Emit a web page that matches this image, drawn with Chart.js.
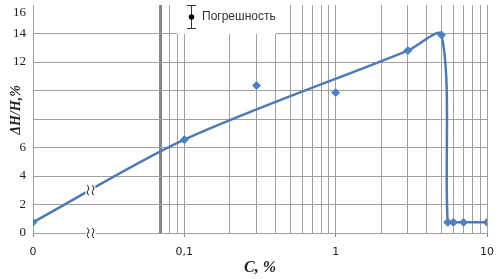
<!DOCTYPE html>
<html><head><meta charset="utf-8">
<script src="https://cdn.jsdelivr.net/npm/chart.js@4.4.0/dist/chart.umd.min.js"></script>
<style>html,body{margin:0;padding:0;background:#fff}canvas{display:block}</style>
</head><body>
<canvas id="c" width="498" height="279"></canvas>
<script>
// Measured points (C in %, ΔH/H in %)
const C_MEASURED  = [0, 0.1, 0.3, 1, 3, 5, 5.5, 6, 7, 10];
const DH_MEASURED = [0.75, 6.55, 10.35, 9.85, 12.8, 13.9, 0.75, 0.75, 0.75, 0.75];
// Smoothed trend curve
const C_CURVE  = [0, 0.1, 3, 5, 5.5, 6, 7, 10];
const DH_CURVE = [0.75, 6.55, 12.8, 13.9, 0.75, 0.75, 0.75, 0.75];
// Axis ticks
const ZERO_AT = 0.01;           // where C = 0 sits on the broken log axis
const BREAK_AT = 0.07;          // axis break line
const X_MINOR = [0.08, 0.09, 0.2, 0.3, 0.4, 0.5, 0.6, 0.7, 0.8, 0.9, 2, 3, 4, 5, 6, 7, 8, 9];
const X_LABEL_VALUES = [0.01, 0.1, 1, 10];
const X_LABEL_TEXT   = ['0', '0,1', '1', '10'];
const Y_TICKS = [0, 2, 4, 6, 8, 10, 12, 14, 16];
const Y_HIDDEN_LABELS = [8, 10];
const BREAK_MARK_C = 0.024;
const BREAK_MARK_Y = [3, 0];
const LEGEND_TEXT = 'Погрешность';
const X_TITLE = 'C, %';
const Y_TITLE = 'ΔH/H,%';

const LINE = '#4d7ab5';
const MARK = '#4f81bd';
const GRID = '#a0a0a0';

const toX = c => c === 0 ? ZERO_AT : c;
const X_GRID = [ZERO_AT, BREAK_AT, ...X_MINOR, 0.1, 1, 10].sort((a, b) => a - b);
const labelIdx = v => X_LABEL_VALUES.indexOf(v);

const overlay = {
  id: 'overlay',
  afterDraw(chart) {
    const ctx = chart.ctx;
    const xs = chart.scales.x, ys = chart.scales.y;
    // break marks
    BREAK_MARK_Y.forEach(yv => {
      const x = xs.getPixelForValue(BREAK_MARK_C), y = ys.getPixelForValue(yv);
      ctx.save();
      ctx.fillStyle = '#fff';
      ctx.fillRect(x - 5, y - 4, 10, 8);
      ctx.strokeStyle = '#111';
      ctx.lineWidth = 1;
      [-2.5, 2.5].forEach(dx => {
        const x0 = x + dx;
        ctx.beginPath();
        ctx.moveTo(x0 - 1, y - 5);
        ctx.bezierCurveTo(x0 + 4, y - 2, x0 - 4, y + 2, x0 + 1, y + 5);
        ctx.stroke();
      });
      ctx.restore();
    });
    // legend
    ctx.save();
    ctx.fillStyle = '#fff';
    ctx.fillRect(177, 0, 99, 34);
    ctx.strokeStyle = '#333';
    ctx.lineWidth = 1;
    ctx.beginPath();
    ctx.moveTo(191.5, 5); ctx.lineTo(191.5, 29);
    ctx.moveTo(187, 5.5); ctx.lineTo(196, 5.5);
    ctx.moveTo(187, 28.5); ctx.lineTo(196, 28.5);
    ctx.stroke();
    ctx.fillStyle = '#000';
    ctx.beginPath(); ctx.arc(191.5, 17, 2.7, 0, Math.PI * 2); ctx.fill();
    ctx.fillStyle = '#333';
    ctx.font = '12px "Liberation Sans"';
    ctx.textAlign = 'left'; ctx.textBaseline = 'middle';
    ctx.fillText(LEGEND_TEXT, 202, 17);
    // y title
    ctx.translate(16, 110);
    ctx.rotate(-Math.PI / 2);
    ctx.font = 'italic bold 14px "Liberation Serif"';
    ctx.fillStyle = '#222';
    ctx.textAlign = 'center'; ctx.textBaseline = 'middle';
    ctx.fillText(Y_TITLE, 0, 0);
    ctx.restore();
  }
};

new Chart(document.getElementById('c'), {
  type: 'scatter',
  data: {
    datasets: [
      { label: 'curve', data: C_CURVE.map((c, i) => ({ x: toX(c), y: DH_CURVE[i] })),
        showLine: true, borderColor: LINE, borderWidth: 2.5, pointRadius: 0, tension: 0.3, fill: false, order: 2 },
      { label: 'measured', data: C_MEASURED.map((c, i) => ({ x: toX(c), y: DH_MEASURED[i] })),
        showLine: false, pointStyle: 'rectRot', pointRadius: 4, backgroundColor: MARK, borderColor: MARK, borderWidth: 1, order: 1 }
    ]
  },
  options: {
    responsive: false, animation: false, devicePixelRatio: 1,
    layout: { padding: { left: 0, right: 11, top: 4, bottom: 0 } },
    plugins: { legend: { display: false }, tooltip: { enabled: false } },
    scales: {
      x: {
        type: 'logarithmic', min: ZERO_AT, max: 10,
        afterBuildTicks: s => { s.ticks = X_GRID.map(v => ({ value: v })); },
        afterFit: s => { s.height = 46; s.paddingLeft = 0; s.paddingRight = 0; },
        grid: {
          color: c => c.tick && c.tick.value === BREAK_AT ? '#868686' : GRID,
          lineWidth: c => c.tick && c.tick.value === BREAK_AT ? 3 : 1,
          drawTicks: true, tickLength: 4,
          tickColor: c => c.tick && labelIdx(c.tick.value) >= 0 ? '#8a8a8a' : 'rgba(0,0,0,0)',
          tickWidth: 1
        },
        border: { display: true, color: GRID },
        ticks: {
          autoSkip: false, maxRotation: 0, minRotation: 0, padding: 9,
          font: { family: 'DejaVu Sans', size: 11 }, color: '#222',
          callback: v => { const i = labelIdx(v); return i >= 0 ? X_LABEL_TEXT[i] : ''; }
        },
        title: { display: true, text: X_TITLE, color: '#222', padding: { top: 0, bottom: 2 },
          font: { family: 'Liberation Serif', size: 16, weight: 'bold', style: 'italic' } }
      },
      y: {
        min: 0, max: 16,
        afterBuildTicks: s => { s.ticks = Y_TICKS.map(v => ({ value: v })); },
        afterFit: s => { s.width = 33; s.paddingTop = 0; s.paddingBottom = 0; },
        grid: { color: c => c.tick && c.tick.value === 16 ? 'rgba(0,0,0,0)' : GRID, drawTicks: false },
        border: { display: true, color: GRID },
        ticks: {
          autoSkip: false,
          padding: 7, font: { family: 'Liberation Serif', size: 13 }, color: '#222',
          callback: v => Y_HIDDEN_LABELS.includes(v) ? '' : (v === 16 ? ['', '16'] : String(v))
        }
      }
    }
  },
  plugins: [overlay]
});
</script>
</body></html>
